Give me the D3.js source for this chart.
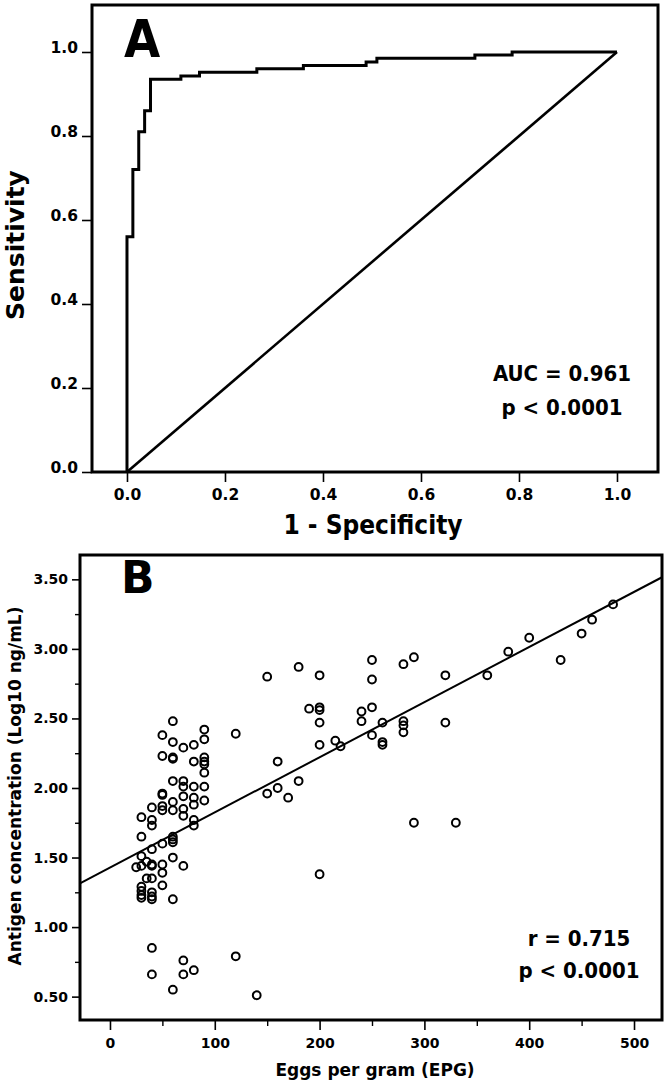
<!DOCTYPE html>
<html>
<head>
<meta charset="utf-8">
<script src="https://cdn.jsdelivr.net/npm/d3@7"></script>
<style>
  html, body { margin: 0; padding: 0; background: #fff; }
  svg { display: block; }
  .tick text { font-family: 'DejaVu Sans', Verdana, sans-serif; font-weight: bold; fill: #000; }
  .cond { font-family: 'DejaVu Sans Condensed', 'DejaVu Sans', sans-serif; font-stretch: condensed; font-weight: bold; }
  .wide { font-family: 'DejaVu Sans', Verdana, sans-serif; font-weight: bold; }
</style>
</head>
<body>
<svg id="chart" width="666" height="1081"></svg>
<script>
// ---------- Panel A: ROC curve (step corners: vertical rise first, then horizontal) ----------
const rocFPR = [0, 0.012, 0.024, 0.036, 0.048, 0.110, 0.148, 0.265, 0.360, 0.488, 0.510, 0.710, 0.786, 1.0];
const rocTPR = [0, 0.560, 0.720, 0.810, 0.860, 0.935, 0.943, 0.952, 0.960, 0.968, 0.976, 0.985, 0.993, 1.0];
const refFPR = [0, 1];
const refTPR = [0, 1];
const rocTicks = [0, 0.2, 0.4, 0.6, 0.8, 1.0];
const rocStats = ["AUC = 0.961", "p < 0.0001"];

// ---------- Panel B: scatter ----------
const epg = [
  25,
  30, 30, 30, 30, 30, 30, 30, 30,
  35, 35,
  40, 40, 40, 40, 40, 40, 40, 40, 40, 40, 40, 40,
  50, 50, 50, 50, 50, 50, 50, 50, 50, 50,
  60, 60, 60, 60, 60, 60, 60, 60, 60, 60, 60, 60, 60,
  70, 70, 70, 70, 70, 70, 70, 70, 70,
  80, 80, 80, 80, 80, 80, 80, 80,
  90, 90, 90, 90, 90, 90, 90, 90,
  120, 120, 140, 150, 150, 160, 160, 170, 180, 180, 190,
  200, 200, 200, 200, 200, 200,
  215, 220, 240, 240, 250, 250, 250, 250,
  260, 260, 260, 280, 280, 280, 280, 290, 290,
  320, 320, 330, 360, 380, 400, 430, 450, 460, 480
];
const antigen = [
  1.43,
  1.79, 1.65, 1.51, 1.44, 1.29, 1.26, 1.23, 1.21,
  1.47, 1.35,
  1.86, 1.77, 1.73, 1.56, 1.45, 1.44, 1.35, 1.25, 1.22, 1.20, 0.85, 0.66,
  2.38, 2.23, 1.96, 1.95, 1.87, 1.84, 1.60, 1.45, 1.39, 1.30,
  2.48, 2.33, 2.22, 2.21, 2.05, 1.90, 1.84, 1.65, 1.63, 1.61, 1.50, 1.20, 0.55,
  2.29, 2.05, 2.01, 1.94, 1.85, 1.80, 1.44, 0.76, 0.66,
  2.31, 2.19, 2.01, 1.93, 1.88, 1.77, 1.73, 0.69,
  2.42, 2.35, 2.22, 2.19, 2.17, 2.11, 2.01, 1.91,
  2.39, 0.79, 0.51, 2.80, 1.96, 2.19, 2.00, 1.93, 2.87, 2.05, 2.57,
  2.81, 2.58, 2.56, 2.47, 2.31, 1.38,
  2.34, 2.30, 2.55, 2.48, 2.92, 2.78, 2.58, 2.38,
  2.47, 2.33, 2.31, 2.89, 2.48, 2.45, 2.40, 2.94, 1.75,
  2.81, 2.47, 1.75, 2.81, 2.98, 3.08, 2.92, 3.11, 3.21, 3.32
];
const fitEPG = [-28.6, 526.7];
const fitAntigen = [1.315, 3.515];
const epgTicks = [0, 100, 200, 300, 400, 500];
const epgMinor = [50, 150, 250, 350, 450];
const antTicks = [0.5, 1.0, 1.5, 2.0, 2.5, 3.0, 3.5];
const antMinor = [0.75, 1.25, 1.75, 2.25, 2.75, 3.25];
const scatterStats = ["r = 0.715", "p < 0.0001"];

const svg = d3.select("#chart");

// ================= Panel A =================
const xA = d3.scaleLinear().domain([-0.0714, 1.0837]).range([92, 658]);
const yA = d3.scaleLinear().domain([0, 1.1119]).range([472, 5]);
const gA = svg.append("g");

const axA_y = gA.append("g").attr("transform", `translate(${xA.range()[0]},0)`)
  .call(d3.axisLeft(yA).tickValues(rocTicks).tickFormat(d3.format(".1f")).tickSize(10).tickPadding(4));
axA_y.select(".domain").remove();
axA_y.selectAll("line").attr("stroke", "#000").attr("stroke-width", 1.6);
axA_y.selectAll("text").attr("dy", "0.05em").style("font-size", "15.5px");

const axA_x = gA.append("g").attr("transform", `translate(0,${yA(0)})`)
  .call(d3.axisBottom(xA).tickValues(rocTicks).tickFormat(d3.format(".1f")).tickSize(10).tickPadding(7));
axA_x.select(".domain").remove();
axA_x.selectAll("line").attr("stroke", "#000").attr("stroke-width", 1.6);
axA_x.selectAll("text").style("font-size", "15.5px");

// frame
gA.append("rect")
  .attr("x", xA.range()[0]).attr("y", yA.range()[1])
  .attr("width", xA.range()[1] - xA.range()[0]).attr("height", yA.range()[0] - yA.range()[1])
  .attr("fill", "none").attr("stroke", "#000").attr("stroke-width", 3);

// reference diagonal
gA.append("path")
  .attr("d", d3.line().x((d, i) => xA(refFPR[i])).y((d, i) => yA(refTPR[i]))(refFPR))
  .attr("fill", "none").attr("stroke", "#000").attr("stroke-width", 2.6);

// ROC
gA.append("path")
  .attr("d", d3.line().curve(d3.curveStepBefore).x((d, i) => xA(rocFPR[i])).y((d, i) => yA(rocTPR[i]))(rocFPR))
  .attr("fill", "none").attr("stroke", "#000").attr("stroke-width", 3).attr("stroke-linejoin", "miter");

gA.append("text").attr("class", "cond").attr("x", 124).attr("y", 57)
  .style("font-size", "52px").text("A");

gA.selectAll("text.stat").data(rocStats).join("text").attr("class", "stat cond")
  .attr("x", 562).attr("y", (d, i) => 381 + i * 34).attr("text-anchor", "middle")
  .style("font-size", "22px").text(d => d);

gA.append("text").attr("class", "wide")
  .attr("transform", "translate(24,245) rotate(-90)").attr("text-anchor", "middle")
  .style("font-size", "25px").text("Sensitivity");

gA.append("text").attr("class", "cond")
  .attr("x", 373).attr("y", 534).attr("text-anchor", "middle")
  .style("font-size", "26px").text("1 - Specificity");

// ================= Panel B =================
const xB = d3.scaleLinear().domain([-28.6, 526.7]).range([80, 662]);
const yB = d3.scaleLinear().domain([0.332, 3.675]).range([1020, 555]);
const gB = svg.append("g");

const axB_yMinor = gB.append("g").attr("transform", `translate(${xB.range()[0]},0)`)
  .call(d3.axisLeft(yB).tickValues(antMinor).tickFormat("").tickSize(5));
axB_yMinor.select(".domain").remove();
axB_yMinor.selectAll("line").attr("stroke", "#000").attr("stroke-width", 1.4);

const axB_y = gB.append("g").attr("transform", `translate(${xB.range()[0]},0)`)
  .call(d3.axisLeft(yB).tickValues(antTicks).tickFormat(d3.format(".2f")).tickSize(8).tickPadding(4));
axB_y.select(".domain").remove();
axB_y.selectAll("line").attr("stroke", "#000").attr("stroke-width", 1.6);
axB_y.selectAll("text").style("font-size", "14px");

const axB_xMinor = gB.append("g").attr("transform", `translate(0,${yB.range()[0]})`)
  .call(d3.axisBottom(xB).tickValues(epgMinor).tickFormat("").tickSize(6));
axB_xMinor.select(".domain").remove();
axB_xMinor.selectAll("line").attr("stroke", "#000").attr("stroke-width", 1.4);

const axB_x = gB.append("g").attr("transform", `translate(0,${yB.range()[0]})`)
  .call(d3.axisBottom(xB).tickValues(epgTicks).tickSize(10).tickPadding(8));
axB_x.select(".domain").remove();
axB_x.selectAll("line").attr("stroke", "#000").attr("stroke-width", 1.6);
axB_x.selectAll("text").style("font-size", "14px");

gB.append("rect")
  .attr("x", xB.range()[0]).attr("y", yB.range()[1])
  .attr("width", xB.range()[1] - xB.range()[0]).attr("height", yB.range()[0] - yB.range()[1])
  .attr("fill", "none").attr("stroke", "#000").attr("stroke-width", 3);

// regression line
gB.append("path")
  .attr("d", d3.line().x((d, i) => xB(fitEPG[i])).y((d, i) => yB(fitAntigen[i]))(fitEPG))
  .attr("fill", "none").attr("stroke", "#000").attr("stroke-width", 2);

// points
gB.selectAll("circle").data(epg).join("circle")
  .attr("cx", (d, i) => xB(epg[i])).attr("cy", (d, i) => yB(antigen[i]))
  .attr("r", 3.9).attr("fill", "none").attr("stroke", "#000").attr("stroke-width", 2);

gB.append("text").attr("class", "wide").attr("x", 121).attr("y", 593)
  .style("font-size", "44px").text("B");

gB.selectAll("text.stat").data(scatterStats).join("text").attr("class", "stat cond")
  .attr("x", 579).attr("y", (d, i) => 946 + i * 32).attr("text-anchor", "middle")
  .style("font-size", "22px").text(d => d);

gB.append("text").attr("class", "wide")
  .attr("transform", "translate(21,786) rotate(-90)").attr("text-anchor", "middle")
  .style("font-size", "17px").text("Antigen concentration (Log10 ng/mL)");

gB.append("text").attr("class", "wide")
  .attr("x", 375).attr("y", 1076).attr("text-anchor", "middle")
  .style("font-size", "17px").text("Eggs per gram (EPG)");
</script>
</body>
</html>
